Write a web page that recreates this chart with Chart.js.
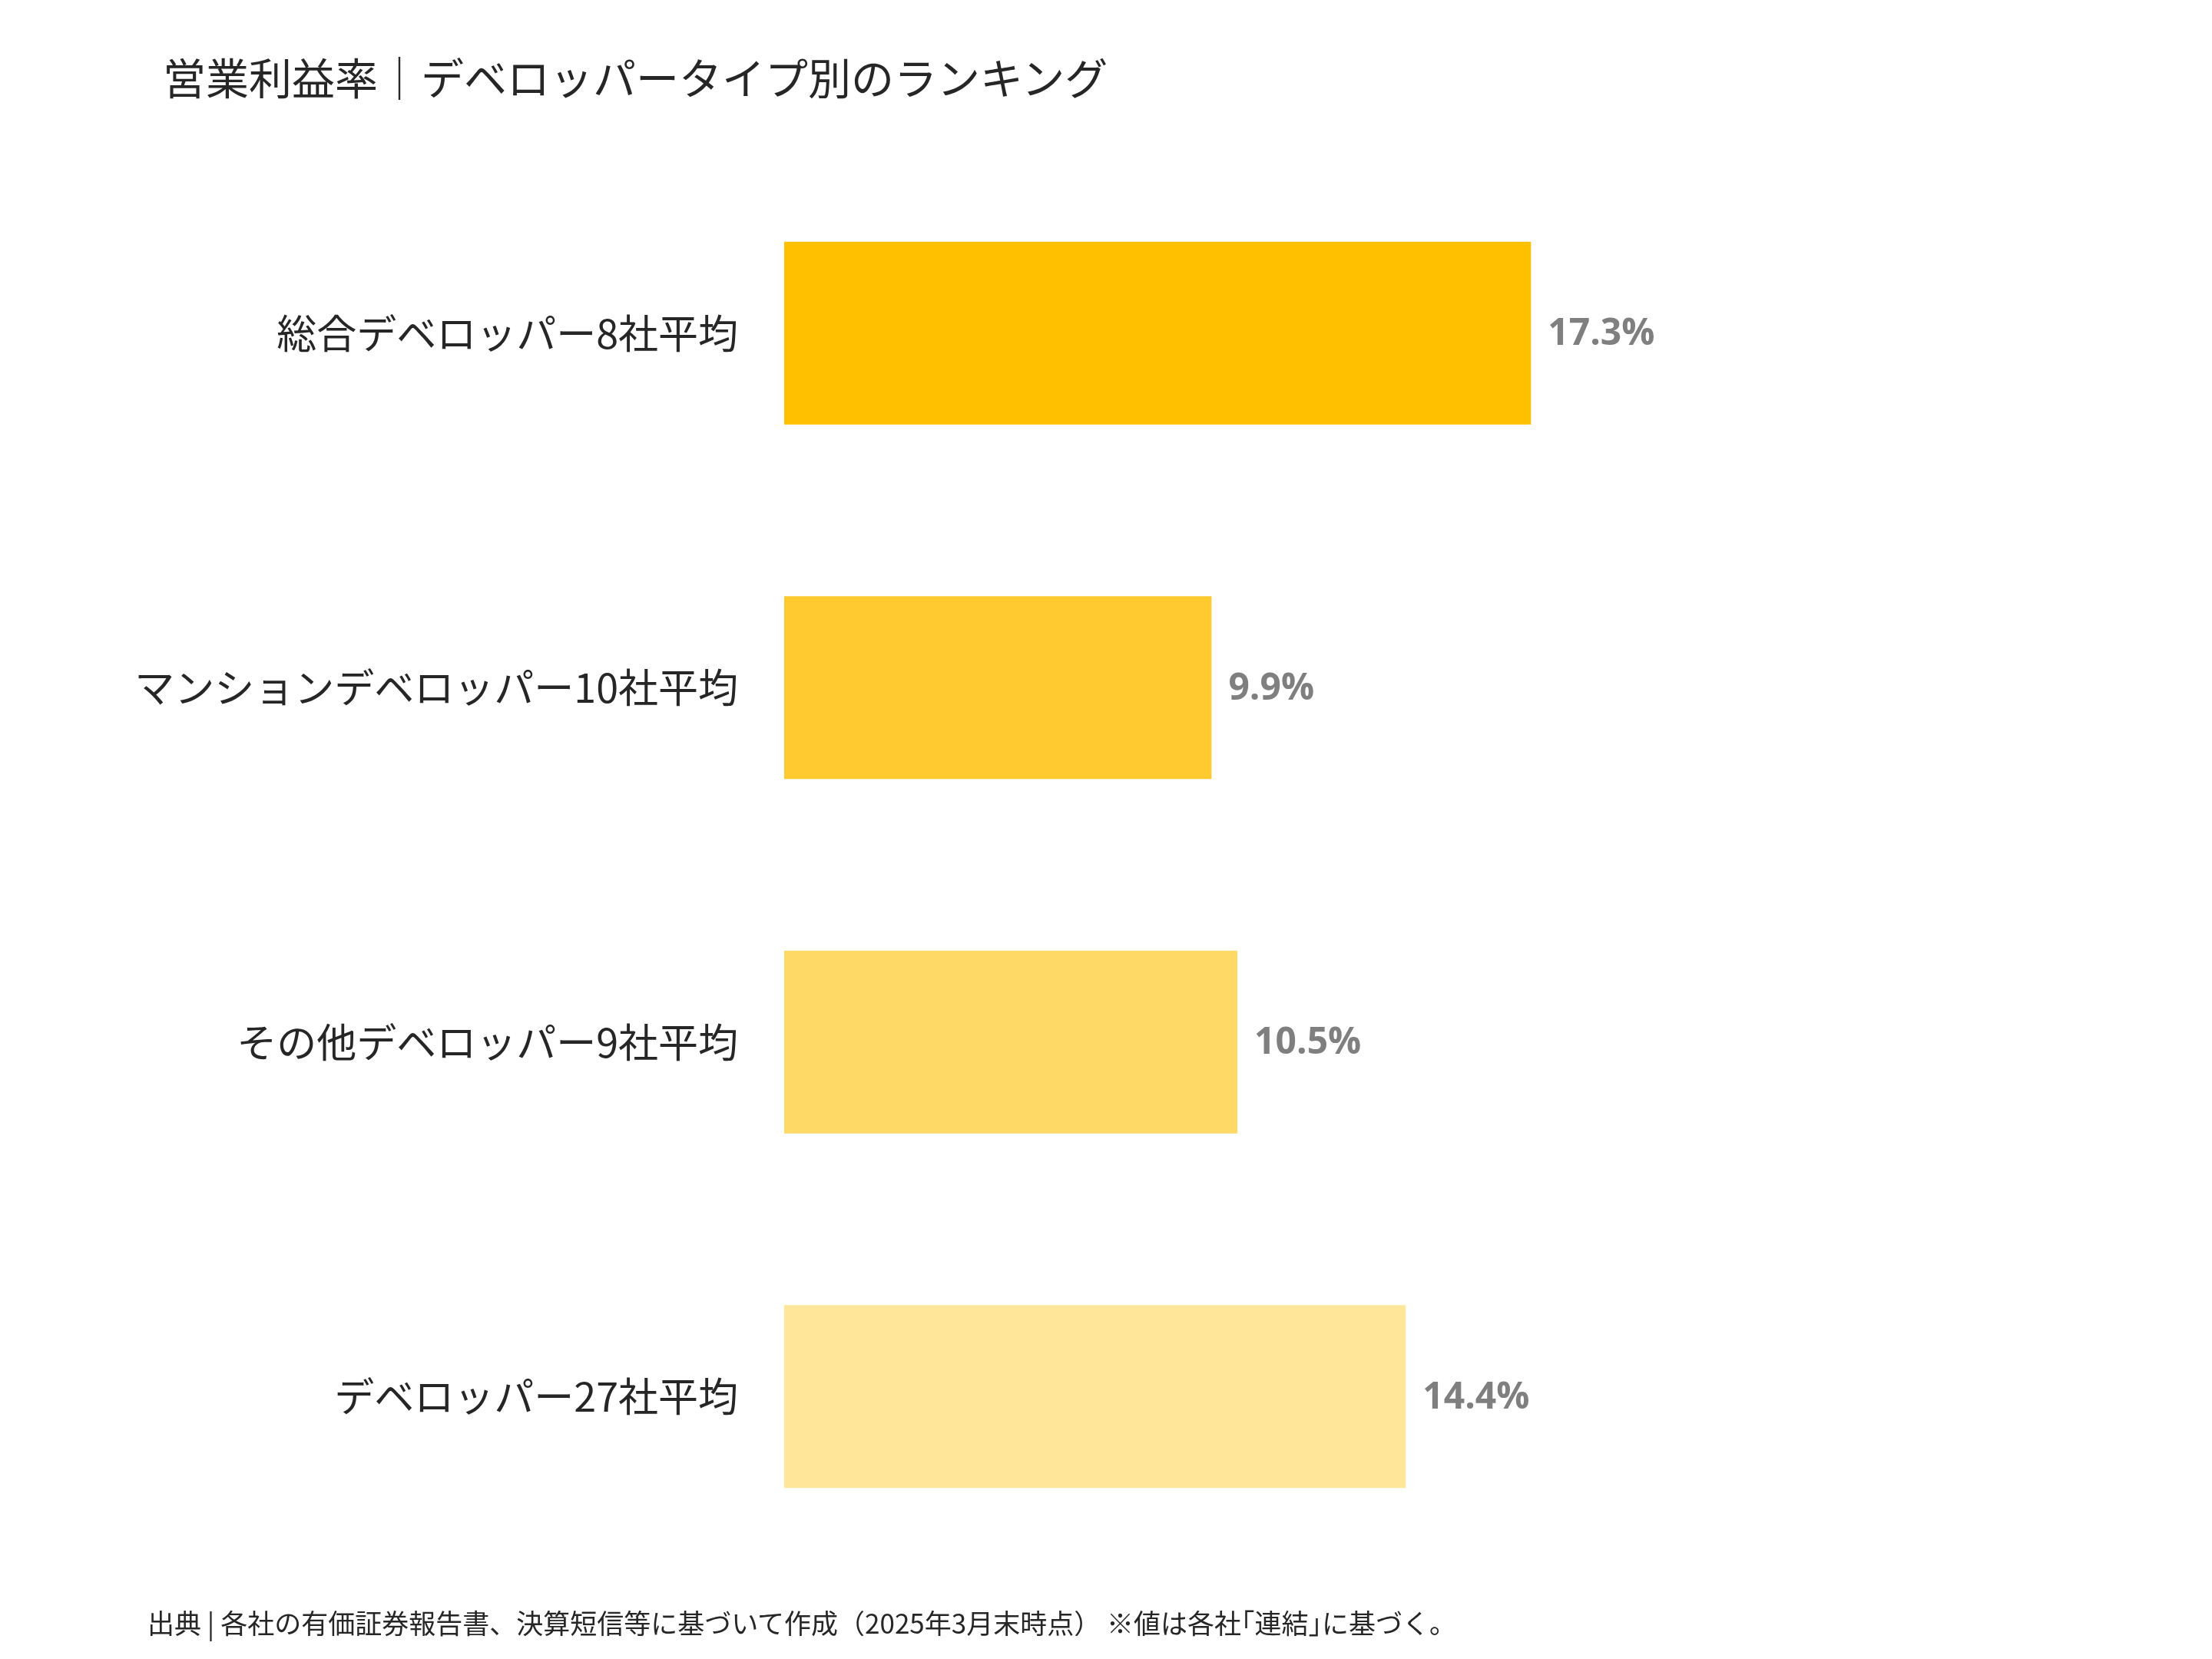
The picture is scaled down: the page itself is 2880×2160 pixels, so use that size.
<!DOCTYPE html>
<html>
<head>
<meta charset="utf-8">
<script src="https://cdn.jsdelivr.net/npm/chart.js@4"></script>
<style>
  html, body { margin: 0; padding: 0; background: #fff; }
  #wrap { position: relative; width: 2880px; height: 2160px; }
  #title { position: absolute; left: 212px; top: 58px; font: 56px "Noto Sans CJK JP", sans-serif; color: #262626; }
  #note { position: absolute; left: 192px; top: 2086px; font: 35px "Noto Sans CJK JP", sans-serif; color: #262626; }
  canvas { position: absolute; left: 0; top: 0; }
</style>
</head>
<body>
<div id="wrap">
  <canvas id="chart" width="2880" height="2160"></canvas>
  <div id="title">営業利益率｜デベロッパータイプ別のランキング</div>
  <div id="note">出典 | 各社の有価証券報告書、決算短信等に基づいて作成（2025年3月末時点） ※値は各社｢連結｣に基づく。</div>
</div>
<script>
const categories = ['総合デベロッパー8社平均', 'マンションデベロッパー10社平均', 'その他デベロッパー9社平均', 'デベロッパー27社平均'];
const values = [17.3, 9.9, 10.5, 14.4];
const barColors = ['#FFC000', '#FFCA2F', '#FFD966', '#FFE699'];

const valueLabels = {
    id: 'valueLabels',
    afterDatasetsDraw(chart) {
        const ctx = chart.ctx;
        const meta = chart.getDatasetMeta(0);
        ctx.save();
        ctx.font = 'bold 48px "Open Sans", "Noto Sans", sans-serif';
        ctx.fillStyle = '#7f7f7f';
        ctx.textBaseline = 'middle';
        meta.data.forEach((bar, i) => {
            ctx.fillText(values[i].toFixed(1) + '%', bar.x + 22, bar.y + 2);
        });
        ctx.restore();
    }
};

new Chart(document.getElementById('chart'), {
    type: 'bar',
    data: {
        labels: categories,
        datasets: [{
            data: values,
            backgroundColor: barColors,
            barPercentage: 0.516,
            categoryPercentage: 1
        }]
    },
    options: {
        indexAxis: 'y',
        responsive: false,
        animation: false,
        layout: { padding: { top: 203, bottom: 111, right: 173, left: 0 } },
        plugins: { legend: { display: false }, tooltip: { enabled: false } },
        scales: {
            x: { min: 0, max: 30, display: false },
            y: {
                grid: { display: false },
                border: { display: false },
                ticks: {
                    padding: 52,
                    color: '#262626',
                    font: { size: 52, family: '"Noto Sans CJK JP", sans-serif' }
                },
                afterFit(scale) { scale.width = 1021; }
            }
        }
    },
    plugins: [valueLabels]
});
</script>
</body>
</html>
